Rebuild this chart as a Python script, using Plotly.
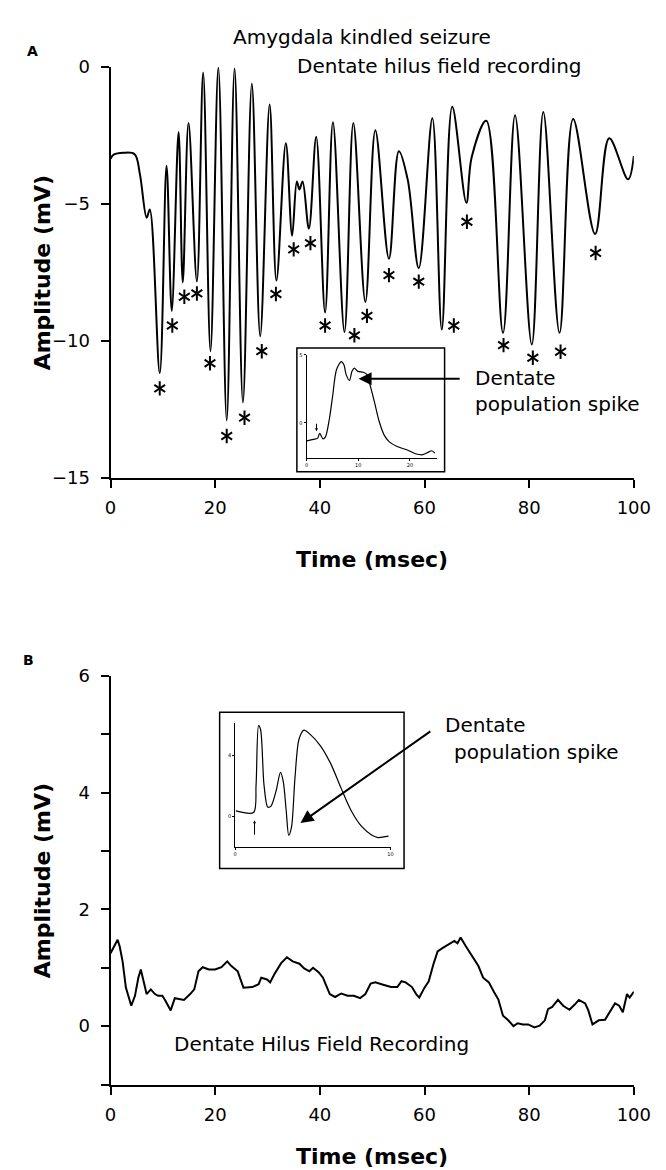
import plotly.graph_objects as go

W, H = 666, 1170

# ---------------- data ----------------
# Panel A: amygdala kindled seizure, dentate hilus field recording (msec, mV)
a_time = [0.0, 0.6, 2.5, 4.6, 5.6, 6.9, 7.5, 9.4, 10.7, 11.7, 13.0, 13.8, 14.9, 16.5,
          17.7, 19.1, 20.6, 22.2, 23.7, 25.3, 27.0, 28.6, 30.4, 31.7, 33.5, 34.7,
          35.6, 36.1, 36.7, 37.9, 39.3, 41.0, 42.5, 44.7, 46.4, 48.7, 50.6, 53.2,
          55.1, 56.8, 58.9, 61.5, 63.3, 65.3, 68.0, 69.0, 71.8, 75.0, 77.3, 80.5,
          82.7, 85.8, 88.4, 92.6, 95.3, 98.9, 100.0]
a_amp = [-3.35, -3.2, -3.13, -3.18, -3.9, -5.5, -5.2, -11.18, -3.6, -8.91, -2.37, -7.87, -2.04, -7.83,
         -0.2, -10.38, -0.02, -12.91, -0.05, -12.25, -0.61, -9.83, -1.37, -7.80, -2.78, -6.16,
         -4.18, -4.47, -4.18, -5.90, -2.54, -8.97, -2.01, -9.68, -2.04, -8.58, -2.31, -7.0,
         -3.07, -4.12, -7.35, -1.87, -9.59, -1.45, -4.96, -3.3, -1.96, -9.71, -1.76, -10.14,
         -1.64, -9.71, -1.9, -6.10, -2.6, -4.1, -3.25]

star_time = [9.4, 11.8, 14.1, 16.5, 19.0, 22.2, 25.6, 28.9, 31.6, 35.0, 38.2, 41.0, 46.6,
             49.0, 53.2, 58.9, 65.6, 68.1, 75.1, 80.7, 86.0, 92.7]
star_amp = [-11.74, -9.44, -8.39, -8.27, -10.82, -13.48, -12.81, -10.38, -8.29, -6.66, -6.43,
            -9.44, -9.80, -9.09, -7.60, -7.84, -9.44, -5.65, -10.16, -10.62, -10.40, -6.79]

insetA_time = [0.06, 1.31, 2.12, 2.55, 3.18, 3.68, 4.42, 5.05, 5.79, 6.73, 7.23, 7.66, 8.29,
               8.79, 9.22, 9.91, 10.97, 11.71, 12.34, 13.15, 14.08, 15.02, 15.95, 17.51,
               19.38, 21.25, 22.49, 23.61, 24.18, 24.8]
insetA_amp = [-1.32, -1.2, -1.13, -0.77, -1.17, -1.0, 0.31, 1.99, 3.91, 4.51, 4.27, 3.55, 3.12,
              3.79, 4.03, 3.79, 3.72, 3.55, 2.71, 1.51, 0.07, -0.89, -1.37, -1.73,
              -1.97, -2.28, -2.33, -2.14, -2.04, -2.21]

# Panel B: dentate hilus field recording (msec, mV)
b_time = [0.0, 0.55, 1.35, 1.74, 2.3, 2.93, 3.96, 4.67, 5.31, 5.78, 6.26, 6.89, 7.69, 8.48,
          9.11, 9.9, 10.46, 11.49, 12.28, 13.23, 14.03, 15.21, 16.0, 16.8, 17.6, 18.8,
          19.97, 21.2, 22.3, 23.1, 24.3, 25.4, 25.9, 27.1, 28.3, 28.8, 29.9, 30.5, 31.3,
          31.9, 32.6, 33.7, 34.8, 36.1, 37.0, 38.0, 38.7, 39.8, 40.6, 41.1, 41.9, 42.9,
          44.1, 45.3, 46.5, 47.7, 48.7, 49.7, 50.6, 52.1, 53.6, 54.8, 55.6, 56.4, 57.6,
          58.4, 59.0, 60.0, 60.8, 61.7, 62.5, 63.5, 64.7, 65.7, 66.3, 66.9, 67.9, 69.1,
          70.3, 71.2, 72.3, 73.3, 74.1, 75.0, 76.0, 77.0, 77.8, 78.8, 79.8, 81.0, 82.0,
          83.0, 83.6, 84.4, 85.5, 86.5, 87.7, 88.7, 89.5, 90.7, 91.3, 92.1, 93.3, 94.5,
          95.5, 96.4, 97.2, 97.9, 98.7, 99.2, 100.0]
b_amp = [1.25, 1.34, 1.48, 1.37, 1.11, 0.66, 0.35, 0.52, 0.83, 0.97, 0.77, 0.55, 0.63, 0.55,
         0.52, 0.52, 0.44, 0.27, 0.48, 0.46, 0.45, 0.55, 0.63, 0.94, 1.01, 0.97,
         0.97, 1.01, 1.11, 1.03, 0.94, 0.66, 0.66, 0.67, 0.72, 0.83, 0.80, 0.75, 0.89,
         0.99, 1.08, 1.18, 1.11, 1.07, 0.99, 0.94, 1.0, 0.92, 0.83, 0.72, 0.55, 0.50,
         0.56, 0.52, 0.52, 0.48, 0.55, 0.73, 0.75, 0.71, 0.67, 0.67, 0.77, 0.75, 0.67,
         0.55, 0.49, 0.66, 0.77, 1.06, 1.28, 1.34, 1.40, 1.46, 1.42, 1.52, 1.37, 1.20,
         1.03, 0.83, 0.75, 0.58, 0.46, 0.18, 0.10, 0.0, 0.05, 0.03, 0.03, -0.02, 0.01,
         0.10, 0.29, 0.33, 0.45, 0.35, 0.28, 0.37, 0.45, 0.39, 0.27, 0.03, 0.10, 0.11,
         0.27, 0.39, 0.35, 0.24, 0.55, 0.49, 0.59]

insetB_time = [0.05, 1.19, 1.35, 1.51, 1.64, 1.86, 2.10, 2.31, 2.63, 2.92, 3.10, 3.29, 3.45,
               3.63, 3.85, 4.11, 4.43, 4.83, 5.49, 6.15, 6.82, 7.48, 8.14, 8.81, 9.20, 9.87]
insetB_amp = [0.36, 0.26, 2.07, 5.97, 5.71, 2.07, 0.62, 0.68, 1.65, 2.89, 2.29, 0.36, -1.24,
              -0.71, 2.50, 5.07, 5.67, 5.39, 4.64, 3.47, 1.86, 0.36, -0.66, -1.24, -1.39, -1.30]

x_ticks = [0, 20, 40, 60, 80, 100]
a_yticks = [-15, -10, -5, 0]
b_yticks = [-1, 0, 1, 2, 3, 4, 5, 6]
b_yticktext = ["", "0", "", "2", "", "4", "", "6"]

FONT = "DejaVu Sans"


def px(x):
    return x / W


def py(y):
    return 1 - y / H


fig = go.Figure()

# main traces
fig.add_trace(go.Scatter(x=a_time, y=a_amp, mode="lines", xaxis="x", yaxis="y",
                         line=dict(color="black", width=2, shape="spline", smoothing=1.0)))
for sym in ["y-up-open", "y-down-open"]:
    fig.add_trace(go.Scatter(x=star_time, y=star_amp, mode="markers", xaxis="x", yaxis="y",
                             marker=dict(symbol=sym, size=9, color="black",
                                         line=dict(color="black", width=2))))
fig.add_trace(go.Scatter(x=insetA_time, y=insetA_amp, mode="lines", xaxis="x3", yaxis="y3",
                         line=dict(color="black", width=1.2, shape="spline", smoothing=0.8)))
fig.add_trace(go.Scatter(x=b_time, y=b_amp, mode="lines", xaxis="x2", yaxis="y2",
                         line=dict(color="black", width=2)))
fig.add_trace(go.Scatter(x=insetB_time, y=insetB_amp, mode="lines", xaxis="x4", yaxis="y4",
                         line=dict(color="black", width=1.2, shape="spline", smoothing=0.8)))

axis_common = dict(showline=True, linecolor="black", linewidth=2, ticks="outside",
                   ticklen=8, tickwidth=2, tickcolor="black", showgrid=False,
                   zeroline=False, tickfont=dict(family=FONT, size=18, color="black"))
inset_common = dict(showline=True, linecolor="black", linewidth=1, ticks="outside",
                    ticklen=2, tickwidth=1, tickcolor="black", showgrid=False,
                    zeroline=False, tickfont=dict(family=FONT, size=5, color="black"))

fig.update_layout(
    width=W, height=H, margin=dict(l=0, r=0, t=0, b=0),
    paper_bgcolor="white", plot_bgcolor="white", showlegend=False,
    xaxis=dict(domain=[px(100), px(642)], range=[0, 100], tickvals=x_ticks, anchor="y",
               ticklabelstandoff=5, **axis_common),
    yaxis=dict(domain=[py(467), py(49)], range=[-15, 0], tickvals=a_yticks, anchor="x",
               ticklabelstandoff=7, **axis_common),
    xaxis2=dict(domain=[px(100), px(642)], range=[0, 100], tickvals=x_ticks, anchor="y2",
                ticklabelstandoff=5, **axis_common),
    yaxis2=dict(domain=[py(1085), py(669)], range=[-1, 6], tickvals=b_yticks,
                ticktext=b_yticktext, anchor="x2", ticklabelstandoff=7, **axis_common),
    xaxis3=dict(domain=[px(303), px(438)], range=[0, 25.2], tickvals=[0, 10, 20],
                anchor="y3", **inset_common),
    yaxis3=dict(domain=[py(447), py(342)], range=[-2.57, 5], tickvals=[0, 5],
                anchor="x3", **inset_common),
    xaxis4=dict(domain=[px(229), px(390)], range=[0, 10], tickvals=[0, 10],
                anchor="y4", **inset_common),
    yaxis4=dict(domain=[py(843), py(717)], range=[-2.0, 6.13], tickvals=[0, 4],
                anchor="x4", **inset_common),
)

# inset frames
fig.add_shape(type="rect", xref="paper", yref="paper", x0=px(293), x1=px(446),
              y0=py(461), y1=py(335), line=dict(color="black", width=1.5))
fig.add_shape(type="rect", xref="paper", yref="paper", x0=px(213), x1=px(404),
              y0=py(865), y1=py(706), line=dict(color="black", width=1.5))

ann = []
txt = dict(family=FONT, size=20, color="black")
bold = dict(family=FONT, size=22, color="black")


def label(text, x, y, font, angle=0):
    ann.append(dict(text=text, x=px(x), y=py(y), xref="paper", yref="paper",
                    xanchor="center", yanchor="middle", showarrow=False,
                    textangle=angle, font=font))


# panel labels & titles
label("<b>A</b>", 19, 33, dict(family=FONT, size=14, color="black"))
label("<b>B</b>", 15, 653, dict(family=FONT, size=14, color="black"))
label("Amygdala kindled seizure", 360, 18, txt)
label("Dentate hilus field recording", 441, 48, txt)
for yc in (258, 877):
    label("<b>Amplitude (mV)</b>", 29, yc, bold, -90)
for yc in (550, 1158):
    label("<b>Time (msec)</b>", 371, yc, bold)

# panel A annotation arrow
ann.append(dict(x=47.4, y=-11.39, ax=67.0, ay=-11.39, xref="x", yref="y", axref="x",
                ayref="y", showarrow=True, arrowhead=2, arrowsize=1.3, arrowwidth=2,
                arrowcolor="black", text=""))
ann.append(dict(text="Dentate<br>population spike", x=69.3, y=-11.83, xref="x", yref="y",
                xanchor="left", yanchor="middle", align="left", showarrow=False, font=txt))
# inset A stimulus arrow
ann.append(dict(x=1.93, y=-0.6, ax=1.93, ay=0.05, xref="x3", yref="y3", axref="x3",
                ayref="y3", showarrow=True, arrowhead=2, arrowsize=0.6, arrowwidth=1,
                arrowcolor="black", text=""))

# panel B annotation arrow
ann.append(dict(x=36.3, y=3.48, ax=61.4, ay=5.07, xref="x2", yref="y2", axref="x2",
                ayref="y2", showarrow=True, arrowhead=2, arrowsize=1.3, arrowwidth=2,
                arrowcolor="black", text=""))
ann.append(dict(text="Dentate", x=63.5, y=5.16, xref="x2", yref="y2", xanchor="left",
                yanchor="middle", showarrow=False, font=txt))
ann.append(dict(text="population spike", x=65.3, y=4.70, xref="x2", yref="y2",
                xanchor="left", yanchor="middle", showarrow=False, font=txt))
ann.append(dict(text="Dentate Hilus Field Recording", x=40.4, y=-0.31, xref="x2",
                yref="y2", xanchor="center", yanchor="middle", showarrow=False, font=txt))
# inset B stimulus arrow
ann.append(dict(x=1.25, y=-0.25, ax=1.25, ay=-1.3, xref="x4", yref="y4", axref="x4",
                ayref="y4", showarrow=True, arrowhead=2, arrowsize=0.6, arrowwidth=1,
                arrowcolor="black", text=""))

fig.update_layout(annotations=ann)
fig.write_html("out.html")
